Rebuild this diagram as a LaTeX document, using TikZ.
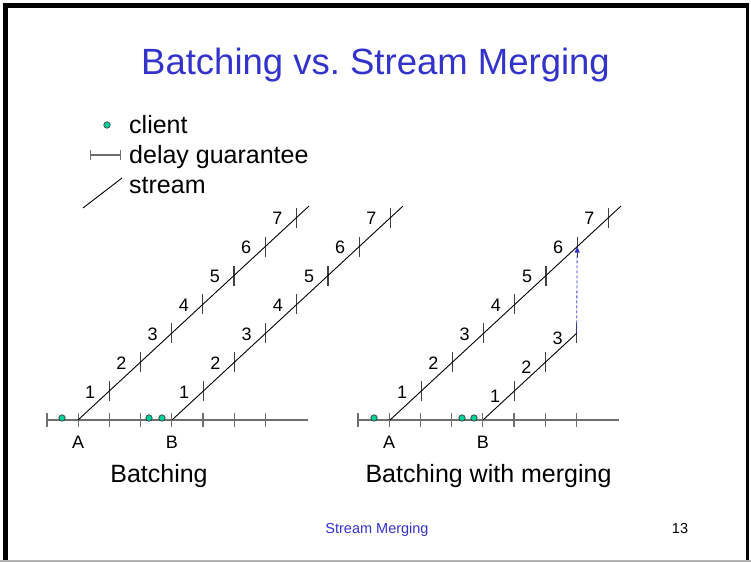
\documentclass[tikz,border=0pt]{standalone}
\usepackage{fontspec}
\setmainfont{Liberation Sans}
\usetikzlibrary{arrows.meta, positioning, calc}
\definecolor{slideBlue}{HTML}{3333CC}
\definecolor{clientGreen}{HTML}{00CC99}
\definecolor{axisGray}{HTML}{6E6E6E}
\tikzset{
  axisL/.style={axisGray, line width=1.3pt},
  tickA/.style={axisGray, line width=1.3pt},
  tickS/.style={black!75, line width=1.1pt},
  streamL/.style={black, line width=0.9pt},
  mergeL/.style={slideBlue, line width=0.8pt, dash pattern=on 3pt off 2pt,
                 -{Triangle[length=6pt, width=5pt]}},
  clientDot/.style={circle, draw=black!80, fill=clientGreen, line width=0.6pt,
                    inner sep=0pt, minimum size=6.5pt},
  numL/.style={font=\fontsize{18}{20}\selectfont, inner sep=0pt},
  capL/.style={font=\fontsize{25}{28}\selectfont, inner sep=0pt},
}

\begin{document}
\begin{tikzpicture}[x=1pt, y=-1pt]
    \fill[white] (0,0) rectangle (751,562);
    % marco de la diapositiva
    \fill[black] (3,3) rectangle (7.5,562);
    \fill[black] (3,3) rectangle (749,7.5);
    \fill[black] (745.5,3) rectangle (749,562);
    \fill[gray!60] (0,560) rectangle (751,562);
    % titulo
    \node[font=\fontsize{36.5}{40}\selectfont, text=slideBlue, inner sep=0pt]
      (title) at (375.5,65) {Batching vs.\ Stream Merging};
    % leyenda
    \node[clientDot] (lgDot) at (107,125) {};
    \node[capL, anchor=base west] (lgClient) at (129,133) {client};
    \node[capL, anchor=base west] (lgDelay) at (129,163) {delay guarantee};
    \node[capL, anchor=base west] (lgStream) at (129,193) {stream};
    \coordinate (lgD1) at (90,155);
    \coordinate (lgD2) at (121,155);
    \draw[axisGray, line width=1.1pt, {Bar[width=10pt]}-{Bar[width=10pt]}] (lgD1) -- (lgD2);
    \coordinate (lgS1) at (83,208);
    \coordinate (lgS2) at (122,178);
    \draw[streamL] (lgS1) -- (lgS2);
    % ejes de tiempo (izq: batching, der: merging)
    \foreach \a/\x in {l/47, r/358} {
      \coordinate (\a0) at (\x,420);
      \coordinate (\a end) at (\x+261,420);
      \draw[axisL] (\a0) -- (\a end);
      \foreach \k in {0,...,7} { \draw[tickA] (\x+\k*31.2,413) -- (\x+\k*31.2,427); }
      \node[numL] (\a A) at (\x+31.2,442) {A};
      \node[numL] (\a B) at (\x+124.8,442) {B};
    }
    % clientes
    \foreach \n/\x in {1/62, 2/149, 3/162, 4/374, 5/462, 6/474} {
      \node[clientDot] (cl\n) at (\x,418) {};
    }
    % streams con marcas numeradas
    \foreach \s/\x/\n/\dy in {lA/78/7/1, lB/172/7/1, rA/390/7/1, rB/483/3/5} {
      \coordinate (\s) at (\x,420);
      \foreach \i in {1,...,\n} {
        \coordinate (\s\i) at (\x+\i*31.2, 420-\i*28.9);
        \draw[tickS] ($(\s\i)+(0,-10)$) -- ($(\s\i)+(0,10)$);
        \node[numL] (\s n\i) at ($(\s\i)+(-19,\dy)$) {\i};
      }
    }
    \foreach \s in {lA, lB, rA} {
      \coordinate (\s end) at ($(\s)+(230.9,-213.9)$);
      \draw[streamL] (\s) -- (\s end);
    }
    \draw[streamL] (rB) -- (rB3);
    % union del stream B con A
    \draw[mergeL] (rB3) -- (rA6);
    % rotulos
    \node[capL, anchor=base] (capL) at (159,482) {Batching};
    \node[capL, anchor=base] (capR) at (488.5,482) {Batching with merging};
    \node[font=\fontsize{14.5}{16}\selectfont, text=slideBlue, anchor=base, inner sep=0pt]
      (foot) at (377,533) {Stream Merging};
    \node[font=\fontsize{14.5}{16}\selectfont, anchor=base, inner sep=0pt]
      (page) at (680,533) {13};
  \end{tikzpicture}
\end{document}
